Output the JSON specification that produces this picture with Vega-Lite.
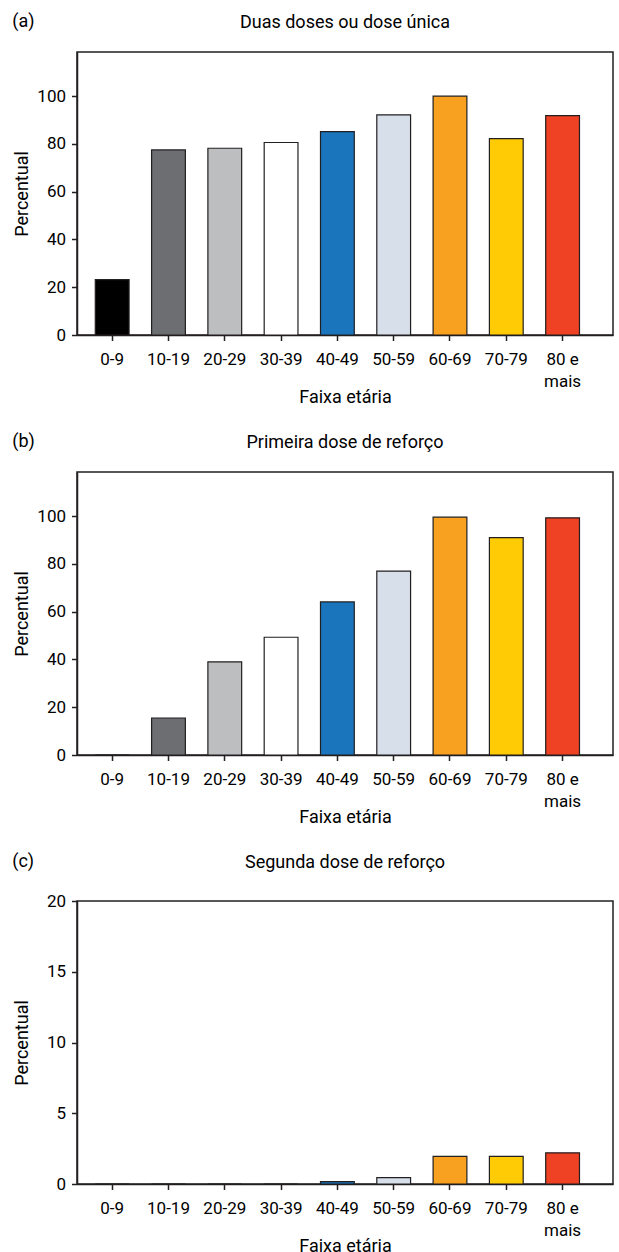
{
  "$schema": "https://vega.github.io/schema/vega-lite/v6.json",
  "padding": {"left": 12, "top": 13, "right": 0, "bottom": 0},
  "background": "white",
  "spacing": 25,
  "datasets": {
    "a": [
      {"faixa": "0-9", "pct": 23.2},
      {"faixa": "10-19", "pct": 77.5},
      {"faixa": "20-29", "pct": 78.2},
      {"faixa": "30-39", "pct": 80.6},
      {"faixa": "40-49", "pct": 85.2},
      {"faixa": "50-59", "pct": 92.2},
      {"faixa": "60-69", "pct": 100},
      {"faixa": "70-79", "pct": 82.2},
      {"faixa": "80 e mais", "pct": 91.9}
    ],
    "b": [
      {"faixa": "0-9", "pct": 0},
      {"faixa": "10-19", "pct": 15.5},
      {"faixa": "20-29", "pct": 39.0},
      {"faixa": "30-39", "pct": 49.3},
      {"faixa": "40-49", "pct": 64.1},
      {"faixa": "50-59", "pct": 77.0},
      {"faixa": "60-69", "pct": 99.6},
      {"faixa": "70-79", "pct": 91.0},
      {"faixa": "80 e mais", "pct": 99.3}
    ],
    "c": [
      {"faixa": "0-9", "pct": 0},
      {"faixa": "10-19", "pct": 0},
      {"faixa": "20-29", "pct": 0},
      {"faixa": "30-39", "pct": 0},
      {"faixa": "40-49", "pct": 0.17},
      {"faixa": "50-59", "pct": 0.45},
      {"faixa": "60-69", "pct": 1.95},
      {"faixa": "70-79", "pct": 1.95},
      {"faixa": "80 e mais", "pct": 2.2}
    ]
  },
  "vconcat": [
    {
      "title": {"text": "(a)", "anchor": "start", "frame": "bounds", "offset": -18},
      "vconcat": [
        {
          "title": {"text": "Duas doses ou dose única", "offset": 20},
          "width": 536,
          "height": 283,
          "data": {"name": "a"},
          "mark": {"type": "bar", "stroke": "#231f20", "strokeWidth": 1.2},
          "encoding": {
            "x": {"field": "faixa", "type": "nominal", "sort": null, "title": "Faixa etária",
              "scale": {"paddingInner": 0.4, "paddingOuter": 0.46, "align": 0.353}},
            "y": {"field": "pct", "type": "quantitative", "title": "Percentual",
              "scale": {"domain": [0, 118.5], "nice": false},
              "axis": {"values": [0, 20, 40, 60, 80, 100]}},
            "color": {"field": "faixa", "type": "nominal", "legend": null,
              "scale": {"domain": ["0-9", "10-19", "20-29", "30-39", "40-49", "50-59", "60-69", "70-79", "80 e mais"],
                "range": ["#000000", "#6d6e71", "#bcbec0", "#ffffff", "#1a75bc", "#d6dfea", "#f8a01f", "#ffcb05", "#ef4123"]}}
          }
        }
      ]
    },
    {
      "title": {"text": "(b)", "anchor": "start", "frame": "bounds", "offset": -18},
      "vconcat": [
        {
          "title": {"text": "Primeira dose de reforço", "offset": 20},
          "width": 536,
          "height": 283,
          "data": {"name": "b"},
          "mark": {"type": "bar", "stroke": "#231f20", "strokeWidth": 1.2},
          "encoding": {
            "x": {"field": "faixa", "type": "nominal", "sort": null, "title": "Faixa etária",
              "scale": {"paddingInner": 0.4, "paddingOuter": 0.46, "align": 0.353}},
            "y": {"field": "pct", "type": "quantitative", "title": "Percentual",
              "scale": {"domain": [0, 118.5], "nice": false},
              "axis": {"values": [0, 20, 40, 60, 80, 100]}},
            "color": {"field": "faixa", "type": "nominal", "legend": null,
              "scale": {"domain": ["0-9", "10-19", "20-29", "30-39", "40-49", "50-59", "60-69", "70-79", "80 e mais"],
                "range": ["#000000", "#6d6e71", "#bcbec0", "#ffffff", "#1a75bc", "#d6dfea", "#f8a01f", "#ffcb05", "#ef4123"]}}
          }
        }
      ]
    },
    {
      "title": {"text": "(c)", "anchor": "start", "frame": "bounds", "offset": -18},
      "vconcat": [
        {
          "title": {"text": "Segunda dose de reforço", "offset": 20},
          "width": 536,
          "height": 283,
          "data": {"name": "c"},
          "mark": {"type": "bar", "stroke": "#231f20", "strokeWidth": 1.2},
          "encoding": {
            "x": {"field": "faixa", "type": "nominal", "sort": null, "title": "Faixa etária",
              "scale": {"paddingInner": 0.4, "paddingOuter": 0.46, "align": 0.353}},
            "y": {"field": "pct", "type": "quantitative", "title": "Percentual",
              "scale": {"domain": [0, 20], "nice": false},
              "axis": {"values": [0, 5, 10, 15, 20]}},
            "color": {"field": "faixa", "type": "nominal", "legend": null,
              "scale": {"domain": ["0-9", "10-19", "20-29", "30-39", "40-49", "50-59", "60-69", "70-79", "80 e mais"],
                "range": ["#000000", "#6d6e71", "#bcbec0", "#ffffff", "#1a75bc", "#d6dfea", "#f8a01f", "#ffcb05", "#ef4123"]}}
          }
        }
      ]
    }
  ],
  "resolve": {"scale": {"color": "independent"}},
  "config": {
    "font": "Roboto",
    "view": {"stroke": "#231f20", "strokeWidth": 1.5},
    "title": {"font": "Roboto", "fontSize": 18, "fontWeight": "normal", "color": "#000000"},
    "axis": {
      "labelFont": "Roboto", "titleFont": "Roboto",
      "labelColor": "#000000", "titleColor": "#000000",
      "labelFontSize": 17, "titleFontSize": 18, "titleFontWeight": "normal",
      "domainColor": "#231f20", "tickColor": "#231f20",
      "domainWidth": 1.5, "tickWidth": 1.5, "tickSize": 5.5, "grid": false
    },
    "axisX": {
      "labelAngle": 0, "labelPadding": 11, "labelLineHeight": 22, "titlePadding": -1,
      "labelExpr": "datum.value == '80 e mais' ? ['80 e', 'mais'] : datum.label"
    },
    "axisY": {"labelPadding": 6, "minExtent": 40, "maxExtent": 40, "titlePadding": 6}
  }
}
